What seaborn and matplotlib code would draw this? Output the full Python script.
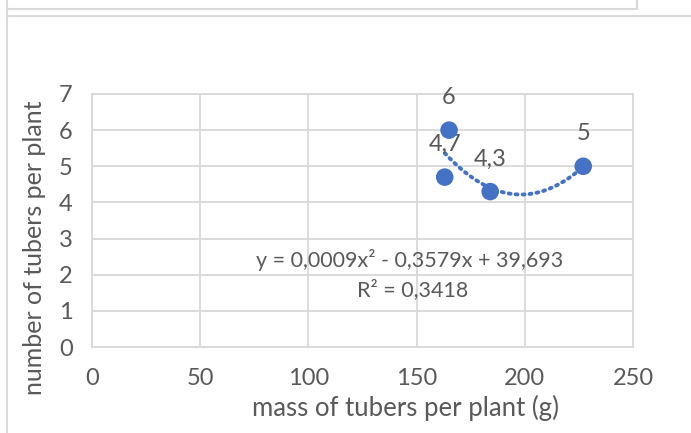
import numpy as np
import pandas as pd
import seaborn as sns
import matplotlib
matplotlib.use("Agg")
import matplotlib.pyplot as plt
from matplotlib.lines import Line2D

# data
mass = [163, 165, 184, 227]
tubers = [4.7, 6, 4.3, 5]
point_labels = ["4,7", "6", "4,3", "5"]
x_ticks = [0, 50, 100, 150, 200, 250]
y_ticks = [0, 1, 2, 3, 4, 5, 6, 7]
equation = "y = 0,0009x² - 0,3579x + 39,693"
r2_text = "R² = 0,3418"

sns.set_theme(style="white")
plt.rcParams['font.family'] = ['Lato', 'DejaVu Sans']

TXT = "#595959"
GRID = "#d9d9d9"
BLUE = "#4472C4"

fig = plt.figure(figsize=(6.91, 4.33), dpi=100)
ax = fig.add_axes([92/691, (433-347)/433, (633-92)/691, (347-94)/433])

df = pd.DataFrame({"mass": mass, "tubers": tubers})

# polynomial trendline (order 2)
coef = np.polyfit(df["mass"], df["tubers"], 2)
xs = np.linspace(min(mass), max(mass), 200)
ax.plot(xs, np.polyval(coef, xs), color=BLUE, lw=2.8, linestyle=(0, (0.5, 1.3)),
        dash_capstyle="round", zorder=3)

sns.scatterplot(data=df, x="mass", y="tubers", ax=ax, color=BLUE, s=160,
                edgecolor="none", zorder=4, legend=False)

for xv, yv, lab in zip(mass, tubers, point_labels):
    ax.annotate(lab, (xv, yv), xytext=(0, 16), textcoords="offset points",
                ha="center", va="bottom", fontsize=17, color=TXT)

ax.set_xlim(0, 250)
ax.set_ylim(0, 7)
ax.set_xticks(x_ticks)
ax.set_yticks(y_ticks)
ax.grid(True, color=GRID, lw=1.3)
for s in ax.spines.values():
    s.set_color(GRID)
    s.set_linewidth(1.3)
ax.tick_params(length=0, labelsize=17, colors=TXT)
ax.tick_params(axis="y", pad=14)
ax.tick_params(axis="x", pad=15)
ax.set_xlabel("mass of tubers per plant (g)", fontsize=18.5, color=TXT)
ax.set_ylabel("number of tubers per plant", fontsize=18, color=TXT)
ax.xaxis.set_label_coords(406/691, 1-408/433, transform=fig.transFigure)
ax.xaxis.label.set_va("center")
ax.yaxis.set_label_coords(35/691, 1-248/433, transform=fig.transFigure)
ax.yaxis.label.set_va("center")

ax.text(147, 2.4, equation, ha="center", va="center", fontsize=15.5, color=TXT)
ax.text(148, 1.6, r2_text, ha="center", va="center", fontsize=15.5, color=TXT)

# chart frame lines
fig.add_artist(Line2D([7/691, 7/691], [0, 1], transform=fig.transFigure, color=GRID, lw=1.5))
fig.add_artist(Line2D([7/691, 637/691], [1-9/433, 1-9/433], transform=fig.transFigure, color=GRID, lw=1.5))
fig.add_artist(Line2D([637/691, 637/691], [1, 1-9/433], transform=fig.transFigure, color=GRID, lw=1.5))
fig.add_artist(Line2D([7/691, 1], [1-16/433, 1-16/433], transform=fig.transFigure, color=GRID, lw=1.5))

fig.savefig("out.png", dpi=100)
